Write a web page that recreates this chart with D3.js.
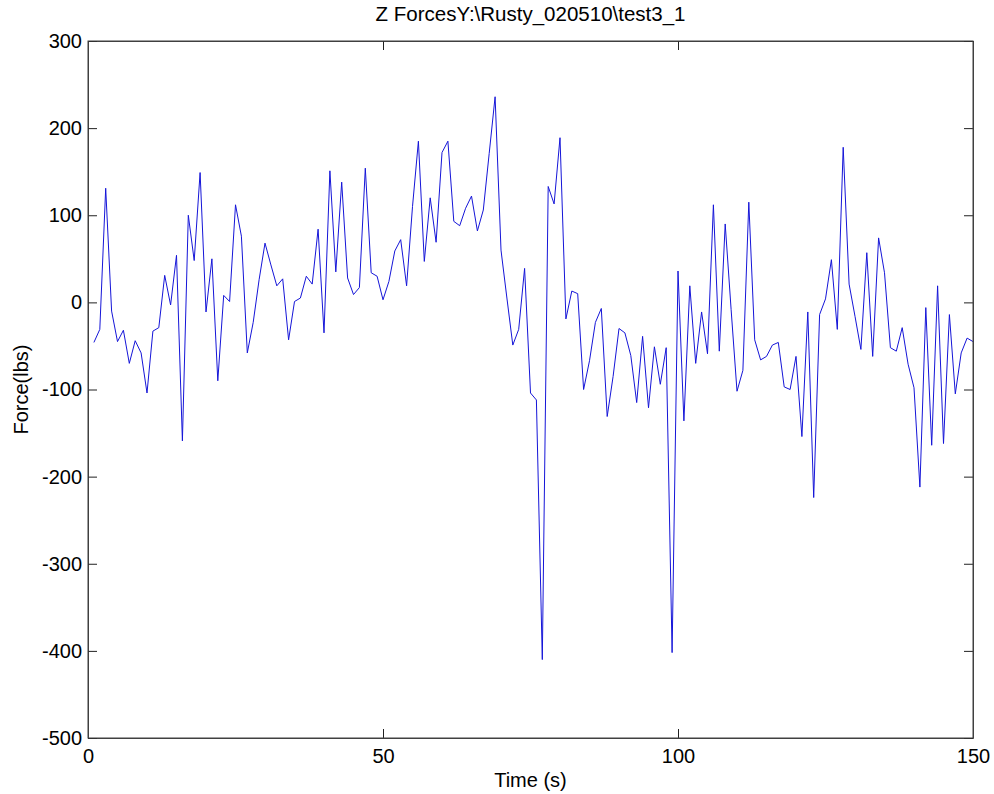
<!DOCTYPE html>
<html>
<head>
<meta charset="utf-8">
<script src="https://cdn.jsdelivr.net/npm/d3@7"></script>
<style>
  body { margin: 0; background: #fff; }
  text { font-family: "Liberation Sans", Arial, sans-serif; fill: #000; }
</style>
</head>
<body>
<div id="container"></div>
<script>
// force readings, one per second starting at t = 1 s
const forces = [
  -46, -31, 131, -10, -45, -32, -70, -44, -58, -104,
  -33, -29, 31, -3, 54, -159, 100, 48, 149, -11,
  50, -90, 8, 1, 112, 76, -58, -23, 26, 68,
  43, 19, 27, -43, 1, 5, 30, 21, 84, -35,
  151, 35, 138, 28, 9, 17, 154, 34, 30, 3,
  24, 59, 72, 19, 110, 185, 47, 120, 69, 172,
  185, 93, 88, 108, 122, 82, 106, 171, 236, 60,
  5, -49, -31, 39, -104, -112, -410, 133, 113, 189,
  -19, 13, 10, -100, -67, -23, -7, -131, -85, -30,
  -35, -61, -115, -39, -121, -51, -94, -52, -402, 36,
  -136, 19, -70, -11, -59, 112, -56, 90, -8, -102,
  -78, 115, -43, -66, -62, -49, -46, -97, -100, -62,
  -154, -11, -224, -14, 4, 49, -31, 178, 21, -16,
  -54, 57, -62, 74, 34, -52, -56, -29, -71, -98,
  -212, -6, -164, 19, -162, -14, -105, -58, -41, -45
];
const xTicks = [0, 50, 100, 150];
const yTicks = [-500, -400, -300, -200, -100, 0, 100, 200, 300];
const title = "Z ForcesY:\\Rusty_020510\\test3_1";

const width = 994;
const height = 794;
const margin = {top: 41, right: 21, bottom: 56, left: 88};
const tickLen = 9;

const svg = d3.select("#container")
  .append("svg")
  .attr("width", width)
  .attr("height", height);

const x = d3.scaleLinear()
  .domain([0, 150])
  .range([margin.left, width - margin.right]);

const y = d3.scaleLinear()
  .domain([-500, 300])
  .range([height - margin.bottom, margin.top]);

const plotW = width - margin.left - margin.right;
const plotH = height - margin.top - margin.bottom;

// line
const line = d3.line()
  .x((d, i) => x(i + 1))
  .y(d => y(d));

svg.append("path")
  .datum(forces)
  .attr("fill", "none")
  .attr("stroke", "#1515d8")
  .attr("stroke-width", 1)
  .attr("d", line);

// matlab style box with inward ticks on every side
const fmt = d => String(d);

svg.append("g")
  .attr("transform", `translate(0,${y(-500)})`)
  .call(d3.axisBottom(x).tickValues(xTicks).tickFormat(fmt).tickSizeInner(-tickLen).tickSizeOuter(0).tickPadding(11));

svg.append("g")
  .attr("transform", `translate(0,${y(300)})`)
  .call(d3.axisTop(x).tickValues(xTicks).tickFormat("").tickSizeInner(-tickLen).tickSizeOuter(0));

svg.append("g")
  .attr("transform", `translate(${x(0)},0)`)
  .call(d3.axisLeft(y).tickValues(yTicks).tickFormat(fmt).tickSizeInner(-tickLen).tickSizeOuter(0).tickPadding(6));

svg.append("g")
  .attr("transform", `translate(${x(150)},0)`)
  .call(d3.axisRight(y).tickValues(yTicks).tickFormat("").tickSizeInner(-tickLen).tickSizeOuter(0));

svg.selectAll(".domain").attr("stroke", "#404040");
svg.selectAll(".tick line").attr("stroke", "#202020");
svg.selectAll(".tick text")
  .style("font-size", "20px")
  .style("font-family", "'Liberation Sans', Arial, sans-serif");

svg.append("rect")
  .attr("x", x(0))
  .attr("y", y(300))
  .attr("width", plotW)
  .attr("height", plotH)
  .attr("fill", "none")
  .attr("stroke", "#404040");

// labels
svg.append("text")
  .attr("x", x(75))
  .attr("y", 21)
  .attr("text-anchor", "middle")
  .style("font-size", "20.5px")
  .text(title);

svg.append("text")
  .attr("x", x(75))
  .attr("y", 787)
  .attr("text-anchor", "middle")
  .style("font-size", "20px")
  .text("Time (s)");

svg.append("text")
  .attr("transform", `translate(28,${y(-100)}) rotate(-90)`)
  .attr("text-anchor", "middle")
  .style("font-size", "20px")
  .text("Force(lbs)");
</script>
</body>
</html>
